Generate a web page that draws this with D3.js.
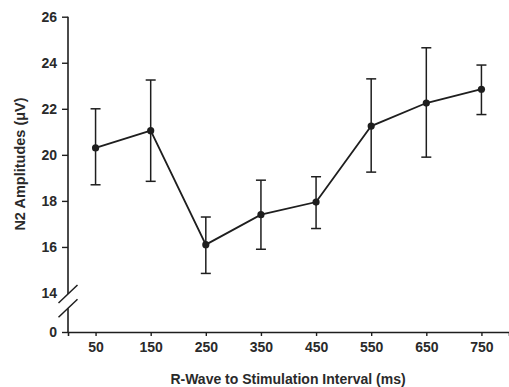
<!DOCTYPE html>
<html>
<head>
<meta charset="utf-8">
<script src="https://cdn.jsdelivr.net/npm/d3@7"></script>
<style>
  html, body { margin: 0; padding: 0; background: #fff; }
  svg text { font-family: "Liberation Sans", Arial, sans-serif; font-weight: bold; fill: #2a2a2a; }
</style>
</head>
<body>
<svg id="chart" width="509" height="387"></svg>
<script>
// R-wave to stimulation interval (ms)
let intervals = [50, 150, 250, 350, 450, 550, 650, 750];
// N2 amplitude means and error bar ends (uV)
let means = [20.3, 21.05, 16.1, 17.4, 17.95, 21.25, 22.25, 22.85];
let upper = [22.0, 23.25, 17.3, 18.9, 19.05, 23.3, 24.65, 23.9];
let lower = [18.7, 18.85, 14.85, 15.9, 16.8, 19.25, 19.9, 21.75];
let yTicks = [0, 14, 16, 18, 20, 22, 24, 26];

let ink = '#1e1e1e';
let svg = d3.select('#chart');

let x = d3.scaleLinear().domain([0, 800]).range([68, 509]);
// broken axis: 0..14 squeezed into the bottom strip
let y = d3.scaleLinear().domain([0, 14, 26]).range([332, 293, 16.7]);

// x axis
let xAxis = svg.append('g')
  .attr('transform', 'translate(0,' + y(0) + ')')
  .call(d3.axisBottom(x).tickValues(intervals).tickSize(4).tickPadding(6).tickFormat(d3.format('d')));
xAxis.select('.domain').attr('stroke', ink).attr('stroke-width', 1.6);
xAxis.selectAll('.tick line').attr('stroke', ink).attr('stroke-width', 1.4);
xAxis.selectAll('.tick text').style('font-size', '14px').attr('fill', '#2a2a2a');

// y axis (domain line drawn by hand because of the break)
let yAxis = svg.append('g')
  .attr('transform', 'translate(' + x(0) + ',0)')
  .call(d3.axisLeft(y).tickValues(yTicks).tickSize(6).tickPadding(5).tickFormat(d3.format('d')));
yAxis.select('.domain').remove();
yAxis.selectAll('.tick line').attr('stroke', ink).attr('stroke-width', 1.4);
yAxis.selectAll('.tick text').style('font-size', '14px').attr('fill', '#2a2a2a');
yAxis.selectAll('.tick').filter(d => d === 14).select('line').remove();

let brkHi = y(14) + 1;
let brkLo = y(8.5);
svg.append('line')
  .attr('x1', x(0)).attr('x2', x(0)).attr('y1', y(26)).attr('y2', brkHi)
  .attr('stroke', ink).attr('stroke-width', 1.6);
svg.append('line')
  .attr('x1', x(0)).attr('x2', x(0)).attr('y1', brkLo).attr('y2', y(0))
  .attr('stroke', ink).attr('stroke-width', 1.6);
[brkHi, brkLo].forEach(cy => {
  svg.append('line')
    .attr('x1', x(0) - 9.5).attr('y1', cy + 9)
    .attr('x2', x(0) + 9.5).attr('y2', cy - 9)
    .attr('stroke', ink).attr('stroke-width', 1.5);
});

// axis titles
svg.append('text')
  .attr('x', 288).attr('y', 384)
  .attr('text-anchor', 'middle')
  .style('font-size', '14px')
  .text('R-Wave to Stimulation Interval (ms)');

svg.append('text')
  .attr('transform', 'translate(25,164) rotate(-90)')
  .attr('text-anchor', 'middle')
  .style('font-size', '14.5px')
  .text('N2 Amplitudes (\u03bcV)');

// error bars
let bars = svg.append('g');
intervals.forEach((iv, i) => {
  let cx = x(iv);
  bars.append('line')
    .attr('x1', cx).attr('x2', cx).attr('y1', y(upper[i])).attr('y2', y(lower[i]))
    .attr('stroke', ink).attr('stroke-width', 1.5);
  [upper[i], lower[i]].forEach(v => {
    bars.append('line')
      .attr('x1', cx - 5).attr('x2', cx + 5).attr('y1', y(v)).attr('y2', y(v))
      .attr('stroke', ink).attr('stroke-width', 1.5);
  });
});

// mean line + markers
let line = d3.line()
  .x((d, i) => x(intervals[i]))
  .y(d => y(d));

svg.append('path')
  .datum(means)
  .attr('d', line)
  .attr('fill', 'none')
  .attr('stroke', ink)
  .attr('stroke-width', 1.8);

svg.selectAll('.pt')
  .data(means)
  .enter().append('circle')
  .attr('class', 'pt')
  .attr('cx', (d, i) => x(intervals[i]))
  .attr('cy', d => y(d))
  .attr('r', 3.6)
  .attr('fill', ink);
</script>
</body>
</html>
